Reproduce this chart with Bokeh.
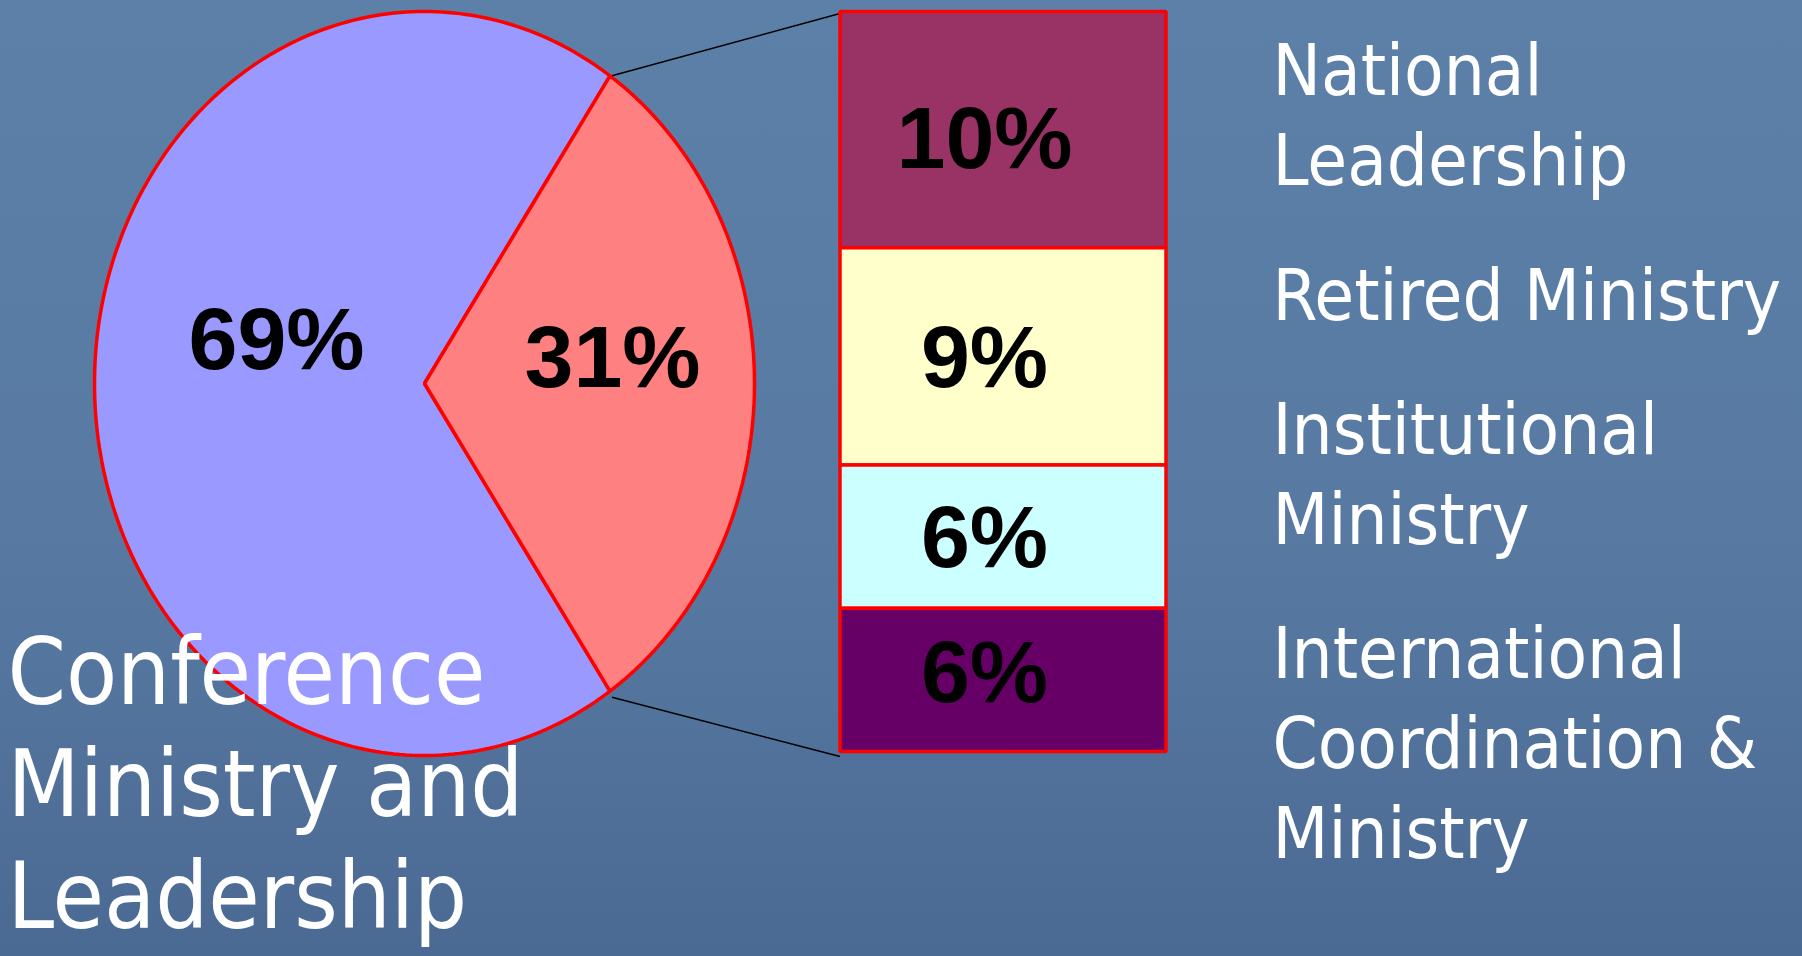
import numpy as np
from bokeh.plotting import figure
from bokeh.models import Range1d, ColumnDataSource
from bokeh.core.properties import value
from bokeh.embed import file_html
from bokeh.resources import INLINE

# ---------------- data ----------------
pie_categories = ["Conference\nMinistry and\nLeadership", "Other ministry"]
pie_values = [69, 31]
bar_categories = ["National\nLeadership", "Retired Ministry",
                  "Institutional\nMinistry", "International\nCoordination &\nMinistry"]
bar_values = [9.9, 9.1, 6.0, 6.0]

# ---------------- styles / layout ----------------
W, H = 1802, 956
BG_CSS = "linear-gradient(to bottom, #5c80a8 0%, #587aa2 55%, #4b6a93 100%)"
pie_colors = ["#9999ff", "#ff8080"]
bar_colors = ["#993366", "#ffffcc", "#ccffff", "#660066"]
PIE_CX, PIE_CY, PIE_RX, PIE_RY = 424, 383, 330, 372
BAR_X0, BAR_X1, BAR_Y0, BAR_Y1 = 839.5, 1165.5, 11, 751
LABEL_FONT = "DejaVu Sans Condensed"
NUM_FONT = "Liberation Sans"
BASE_SHIFT = 0.38  # em, baseline correction for the SVG text placement

p = figure(width=W, height=H, x_range=Range1d(0, W), y_range=Range1d(H, 0),
           output_backend="svg", toolbar_location=None, min_border=0,
           styles={"background": BG_CSS})
p.axis.visible = False
p.grid.visible = False
p.outline_line_color = None
p.background_fill_color = None
p.border_fill_color = None

# pie scale: unit circle -> ellipse
p.extra_x_ranges["pie"] = Range1d(-PIE_CX / PIE_RX, (W - PIE_CX) / PIE_RX)
p.extra_y_ranges["pie"] = Range1d((PIE_CY - H) / PIE_RY, PIE_CY / PIE_RY)
# bar scale: cumulative share from the top
tot_bar = sum(bar_values)
k = (BAR_Y1 - BAR_Y0) / tot_bar
p.extra_y_ranges["bar"] = Range1d((H - BAR_Y0) / k, -BAR_Y0 / k)

# ---------------- pie ----------------
total = sum(pie_values)
f_other = pie_values[1] / total
half = np.pi * f_other
spans = [(half, 2 * np.pi - half), (-half, half)]
xs, ys = [], []
for a0, a1 in spans:
    t = np.linspace(a0, a1, 240)
    xs.append([0.0] + list(np.cos(t)))
    ys.append([0.0] + list(np.sin(t)))
p.patches(xs, ys, fill_color=pie_colors, line_color="#ff0000", line_width=3.5,
          x_range_name="pie", y_range_name="pie")

# connector lines (pie slice edges -> bar corners)
ex = PIE_CX + PIE_RX * np.cos(half)
ey_top = PIE_CY - PIE_RY * np.sin(half)
ey_bot = PIE_CY + PIE_RY * np.sin(half)
p.segment(x0=[ex + 2, ex + 2], y0=[ey_top, ey_bot + 6], x1=[BAR_X0, BAR_X0],
          y1=[BAR_Y0 + 2, BAR_Y1 + 5], line_color="black", line_width=1.5)

# ---------------- bar ----------------
cum = np.cumsum([0] + bar_values)
label_nudge = [8, 0, 0, -8]
bar_src = ColumnDataSource(dict(top=cum[:-1], bottom=cum[1:], color=bar_colors,
                                mid=(cum[:-1] + cum[1:]) / 2,
                                lab=[f"{round(v)}%" for v in bar_values],
                                nudge=label_nudge))
p.quad(left=BAR_X0, right=BAR_X1, top="top", bottom="bottom", fill_color="color",
       line_color="#ff0000", line_width=3.5, source=bar_src, y_range_name="bar")
p.text(x=984, y="mid", text="lab", source=bar_src, y_range_name="bar",
       y_offset="nudge",
       text_font=value(NUM_FONT), text_font_style="bold", text_font_size="88px",
       text_align="center", text_baseline="middle", text_color="black")

# pie value labels
p.text(x=[276, 612], y=[338, 356], text=[f"{v}%" for v in pie_values],
       text_font=value(NUM_FONT), text_font_style="bold", text_font_size="88px",
       text_align="center", text_baseline="middle", text_color="black")

# ---------------- category labels ----------------
# left (pie) label
LFS = 93
left_lines = pie_categories[0].split("\n")
p.text(x=[7] * len(left_lines),
       y=[707 - BASE_SHIFT * LFS + 112 * i for i in range(len(left_lines))],
       text=left_lines, text_font=value(LABEL_FONT), text_font_size=f"{LFS}px",
       text_align="left", text_baseline="alphabetic", text_color="white")

# right labels
RFS = 72
first_baselines = [97, 321.5, 456, 680]
lx, ly, lt = [], [], []
for cat, b in zip(bar_categories, first_baselines):
    for i, line in enumerate(cat.split("\n")):
        lx.append(1272)
        ly.append(b - BASE_SHIFT * RFS + 90 * i)
        lt.append(line)
p.text(x=lx, y=ly, text=lt, text_font=value(LABEL_FONT), text_font_size=f"{RFS}px",
       text_align="left", text_baseline="alphabetic", text_color="white")

open("out.html", "w").write(file_html(p, INLINE))
